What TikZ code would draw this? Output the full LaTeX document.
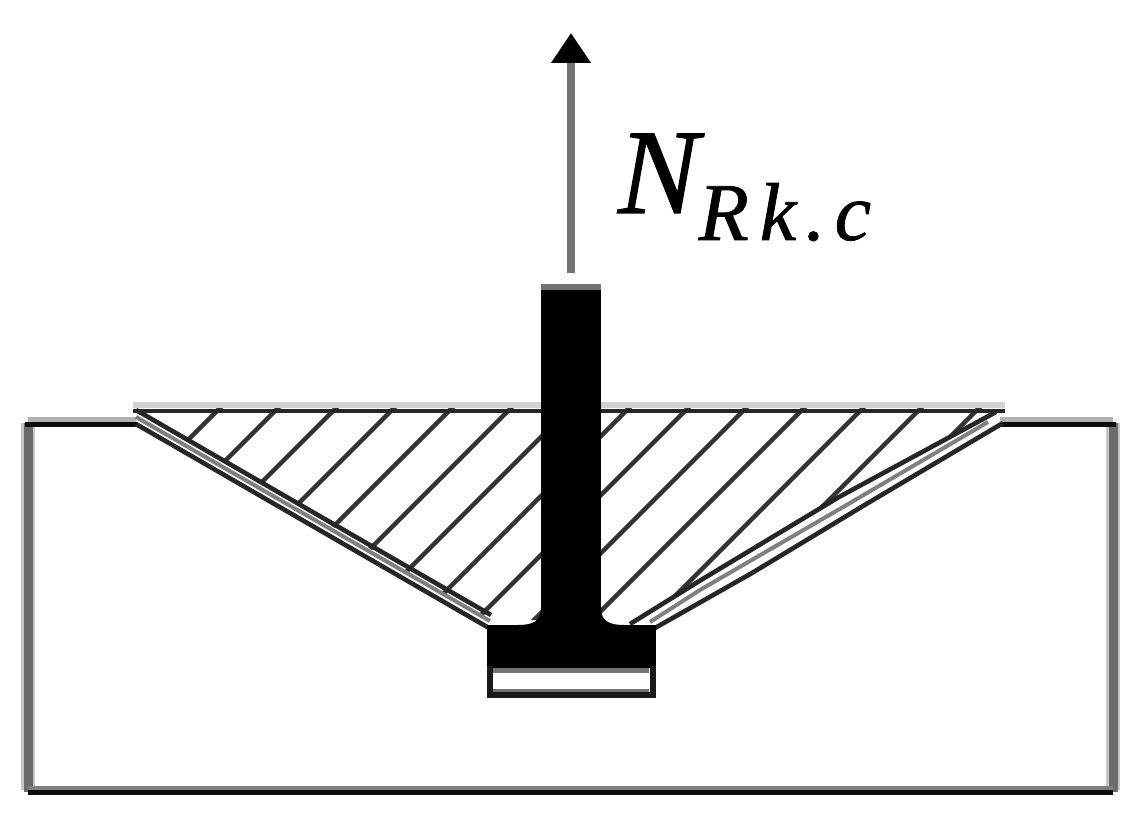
\documentclass[tikz,border=0pt]{standalone}
\usepackage{fontspec}
\setmainfont{Liberation Serif}
\newfontfamily\labelfont[FakeBold=0.9]{Liberation Serif}
\usetikzlibrary{arrows.meta}
\tikzset{
  x=1pt,y=-1pt,
  blocksoft/.style={draw=black!22,line width=14pt},
  blockgray/.style={draw=black!58,line width=9pt},
  blockblack/.style={draw=black!95,line width=5pt},
  halo/.style={draw=black!30,line width=8pt},
  hatchline/.style={draw=black!80,line width=4.4pt},
  bandedge/.style={draw=black!85,line width=4.6pt,line join=round},
  bandmid/.style={draw=black!50,line width=4pt,line join=round},
  forcearrow/.style={draw=black!55,line width=8.5pt,-{Triangle[width=38pt,length=30pt,color=black]}},
  steel/.style={fill=black,draw=none},
  forcelabel/.style={anchor=base west,inner sep=0pt,outer sep=0pt,font=\labelfont\itshape}
}
\begin{document}
\begin{tikzpicture}
\useasboundingbox (0,0) rectangle (1143,821);
\fill[white] (0,0) rectangle (1143,821);
% concrete block
\draw[blocksoft] (28,423) -- (28,790) (1113,423) -- (1113,790);
\draw[blockgray] (28,423) -- (28,792) (1113,423) -- (1113,792);
\draw[draw=black!50,line width=5pt] (28,788) -- (1113,788);
\draw[blockblack] (28,792.5) -- (1113,792.5);
\draw[halo] (28,421) -- (136,421);
\draw[halo] (1000,421) -- (1113,421);
\draw[blockblack] (25,424) -- (138,424);
\draw[blockblack] (1000,424) -- (1116,424);
% hatching of the cone
\begin{scope}
\clip (133,408) -- (1005,408) -- (973,422) -- (839,497) -- (701,580) -- (640,620) -- (490,620) -- cycle;
\foreach \c in {628,686,744,802,860,919,978,1037,1096,1154,1212,1271,1329,1387}
  \draw[hatchline] ({\c-400},400) -- ({\c-700},700);
\end{scope}
% top of the cone
\draw[black!18,line width=6pt] (133,405) -- (1005,405);
\draw[black!85,line width=4.6pt] (133,411) -- (1005,411);
% left failure band
\draw[bandmid] (136,417) -- (490,621);
\draw[bandedge] (136,410) -- (491,615);
\draw[bandedge] (136,424) -- (489,628);
% right failure band
\draw[bandmid] (988,422) -- (850,503) -- (700,590) -- (650,622);
\draw[bandedge] (996,412) -- (839,497) -- (701,580) -- (630,624);
\draw[bandedge] (1003,423) -- (868,503) -- (752,573) -- (655,628);
% anchor
\fill[steel] (487,625) rectangle (656,668);
\fill[steel] (541,285) rectangle (601,630);
\fill[steel] (541,608) .. controls (541,621) and (533,625) .. (518,625) -- (541,630) -- cycle;
\fill[steel] (601,608) .. controls (601,621) and (609,625) .. (624,625) -- (601,630) -- cycle;
\fill[black!55] (541,284) rectangle (601,290);
\fill[black!55] (493,668) rectangle (649,673);
\fill[black!55] (493,689) rectangle (649,693);
\draw[draw=black!90,line width=5.5pt] (490,666) -- (490,695) -- (653,695) -- (653,666);
% force
\coordinate (forcefoot) at (571,273);
\coordinate (forcetip) at (571,33);
\draw[forcearrow] (forcefoot) -- (forcetip);
\node[forcelabel] (nrk) at (618,213) {\fontsize{121}{121}\selectfont N\raisebox{-27pt}{\fontsize{82}{82}\selectfont\kern0pt R\kern11pt k\kern9pt .\kern9pt c}};
\end{tikzpicture}
\end{document}
